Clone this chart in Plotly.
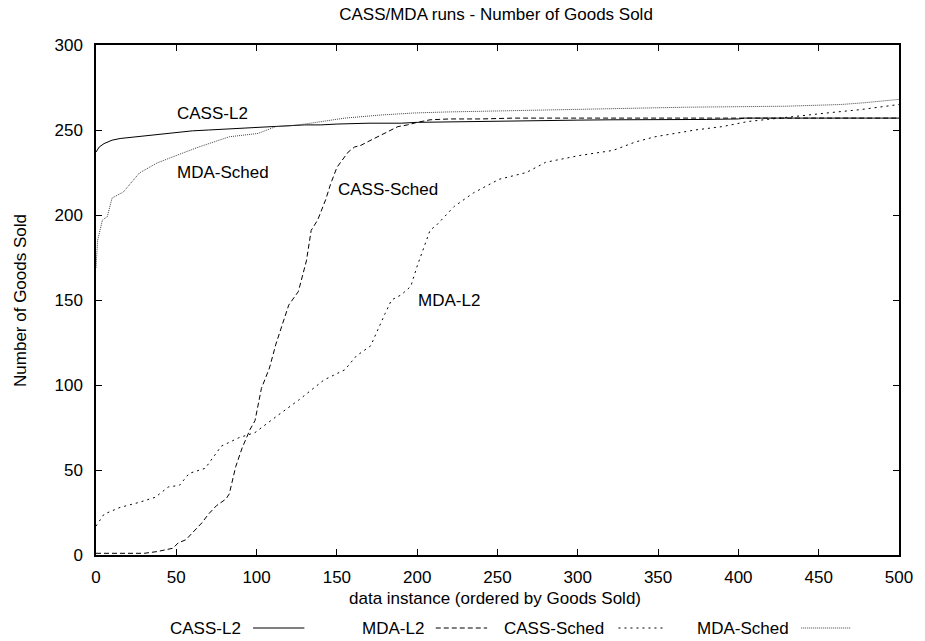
import plotly.graph_objects as go

# ---- data ----
cass_l2_x = [0, 2, 5, 10, 15, 20, 30, 40, 50, 60, 70, 80, 90, 100, 110, 120, 130, 140, 150,
             170, 190, 200, 230, 250, 280, 300, 320, 350, 380, 400, 404, 450, 500]
cass_l2_y = [237, 240, 242, 244, 245, 245.5, 246.5, 247.5, 248.5, 249.5, 250, 250.5, 251, 251.5,
             252, 252.5, 253, 253, 253.5, 254, 254, 254.5, 255, 255.3, 255.5, 255.8, 256, 256,
             256.2, 256.5, 257, 257, 257]

mda_l2_x = [0, 10, 20, 30, 38, 44, 48, 51, 56, 60, 66, 70, 75, 81, 83, 87, 91, 96, 99, 103,
            108, 112, 116, 120, 126, 131, 134, 138, 143, 146, 150, 153, 157, 161, 165, 169,
            175, 181, 188, 194, 200, 208, 220, 240, 260, 300, 350, 400, 450, 500]
mda_l2_y = [1, 1, 1, 1, 2, 3, 4, 7, 9, 13, 19, 24, 29, 33, 36, 52, 63, 74, 79, 98,
            110, 124, 136, 147, 155, 173, 191, 197, 209, 218, 228, 232, 237, 240, 241, 243,
            246, 249, 252, 253, 254.5, 256, 256.5, 256.5, 257, 257, 257, 257, 257, 257]

cass_sched_x = [0, 5, 15, 27, 37, 45, 52, 58, 68, 78, 89, 99, 113, 126, 142, 155, 162, 171,
                180, 184, 190, 196, 200, 208, 212, 223, 235, 251, 268, 280, 301, 322, 336,
                348, 373, 390, 406, 420, 435, 455, 476, 494, 500]
cass_sched_y = [17, 24, 28, 31, 34, 40, 41, 48, 51, 64, 69, 72, 82, 91, 103, 109, 117, 123,
                142, 150, 153, 158, 170, 191, 194, 205, 213, 221, 225, 231, 235, 238, 243,
                246, 250, 252, 255, 256.5, 258, 260, 262, 264.5, 265]

mda_sched_x = [0, 1, 4, 7, 10, 17, 27, 38, 50, 64, 83, 101, 112, 120, 130, 155, 177, 198,
               218, 274, 367, 430, 464, 478, 490, 500]
mda_sched_y = [169, 185, 197, 199, 210, 213.5, 224.7, 230.6, 235, 240, 246, 248, 252, 252.4,
               253.5, 257, 258.8, 260, 260.6, 261.8, 263.4, 264, 265, 266, 267, 268]

series_names = ["CASS-L2", "MDA-L2", "CASS-Sched", "MDA-Sched"]
x_ticks = [0, 50, 100, 150, 200, 250, 300, 350, 400, 450, 500]
y_ticks = [0, 50, 100, 150, 200, 250, 300]

# in-plot labels: (text, x, y)
inplot_labels = [("CASS-L2", 49, 260), ("MDA-Sched", 49, 225),
                 ("CASS-Sched", 149.5, 215), ("MDA-L2", 199.5, 150)]

FONT = "Liberation Sans, Arial, Helvetica, sans-serif"
FS = 17
dashes = ["solid", "5px,3px", "2px,4px", "1px,1px"]
colors = ["black", "black", "black", "#444444"]

fig = go.Figure()
for name, xs, ys, d, c in zip(series_names,
                              [cass_l2_x, mda_l2_x, cass_sched_x, mda_sched_x],
                              [cass_l2_y, mda_l2_y, cass_sched_y, mda_sched_y],
                              dashes, colors):
    fig.add_trace(go.Scatter(x=xs, y=ys, mode="lines", name=name,
                             line=dict(color=c, width=1, dash=d), showlegend=False))

# plot area in pixels
L, R, T, B = 96, 16, 45, 86
W, H = 925, 641
pw, ph = W - L - R, H - T - B

def px_x(p):
    return (p - L) / pw

def px_y(p):
    return (H - B - p) / ph

annotations = []
for txt, x, y in inplot_labels:
    annotations.append(dict(x=x, y=y, xref="x", yref="y", text=txt, showarrow=False,
                            xanchor="left", yanchor="middle",
                            font=dict(family=FONT, size=FS, color="black")))

# axis titles
annotations.append(dict(x=px_x(500), y=px_y(598), xref="paper", yref="paper",
                        text="data instance (ordered by Goods Sold)", showarrow=False,
                        xanchor="center", yanchor="middle",
                        font=dict(family=FONT, size=FS, color="black")))
annotations.append(dict(x=px_x(19), y=px_y(300), xref="paper", yref="paper",
                        text="Number of Goods Sold", showarrow=False, textangle=-90,
                        xanchor="center", yanchor="middle",
                        font=dict(family=FONT, size=FS, color="black")))

# gnuplot-style legend: text then line sample
legend_pos = [(245, 255, 307), (430, 440, 492), (612, 625, 672), (800, 810, 860)]
shapes = []
ly = 628
for name, (tx, x0, x1), d, c in zip(series_names, legend_pos, dashes, colors):
    annotations.append(dict(x=px_x(tx), y=px_y(ly), xref="paper", yref="paper", text=name,
                            showarrow=False, xanchor="right", yanchor="middle",
                            font=dict(family=FONT, size=FS, color="black")))
    shapes.append(dict(type="line", xref="paper", yref="paper",
                       x0=px_x(x0), x1=px_x(x1), y0=px_y(ly), y1=px_y(ly),
                       line=dict(color=c, width=1, dash=d)))

axis_common = dict(showgrid=False, zeroline=False, showline=True, linecolor="black",
                   linewidth=1.5, mirror="ticks", ticks="inside", ticklen=6, tickwidth=1,
                   tickcolor="black", tickfont=dict(family=FONT, size=FS, color="black"))

fig.update_layout(
    width=W, height=H,
    margin=dict(l=L, r=R, t=T, b=B),
    paper_bgcolor="white", plot_bgcolor="white",
    title=dict(text="CASS/MDA runs - Number of Goods Sold", x=px_x(501), xref="paper",
               y=1 - 14 / H, yref="container", xanchor="center", yanchor="middle",
               font=dict(family=FONT, size=FS, color="black")),
    xaxis=dict(range=[0, 500], tickvals=x_ticks, ticktext=[str(v) for v in x_ticks],
               ticklabelstandoff=6, **axis_common),
    yaxis=dict(range=[0, 300], tickvals=y_ticks, ticktext=[str(v) for v in y_ticks],
               ticklabelstandoff=8, **axis_common),
    annotations=annotations,
    shapes=shapes,
    showlegend=False,
)

fig.write_html("out.html")
